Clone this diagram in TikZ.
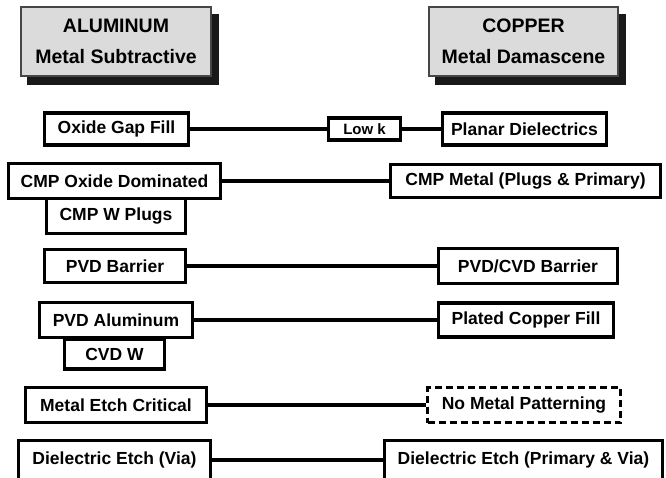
\documentclass[tikz,border=0pt]{standalone}
\usepackage{fontspec}
\setmainfont{Liberation Sans}
\begin{document}
\begin{tikzpicture}[x=1pt,y=-1pt,
  pbox/.style={draw=black,line width=3.4pt,fill=white,inner sep=0pt,align=center,
    font=\fontsize{17.5}{20}\selectfont\bfseries},
  hbox/.style={draw=gray!55!black,line width=1.5pt,fill=gray!28,inner sep=0pt,align=center,
    font=\fontsize{19.5}{31}\selectfont\bfseries},
  hshadow/.style={fill=black!90,draw=none},
  dbox/.style={pbox,dash pattern=on 7pt off 4pt},
  link/.style={draw=black,line width=3.2pt}]
\useasboundingbox (0,0) rectangle (666,478);
% headers
\fill[hshadow] (27,14) rectangle (219,85);
\node[hbox,minimum width=190pt,minimum height=69pt] (hAl) at (116,41.5) {ALUMINUM\\Metal Subtractive};
\fill[hshadow] (435,14) rectangle (626,85);
\node[hbox,minimum width=189pt,minimum height=69pt] (hCu) at (523.5,41.5) {COPPER\\Metal Damascene};
% row 1
\node[pbox,minimum width=144pt,minimum height=32pt] (oxide) at (116.5,129) {Oxide Gap Fill};
\node[pbox,minimum width=72pt,minimum height=22pt,font=\fontsize{15}{17}\selectfont\bfseries] (lowk) at (364.5,129) {Low k};
\node[pbox,minimum width=164pt,minimum height=32pt] (planar) at (524.5,129) {Planar Dielectrics};
% row 2
\node[pbox,minimum width=139pt,minimum height=35pt] (cmpw) at (116,216) {CMP W Plugs};
\node[pbox,minimum width=212pt,minimum height=35pt] (cmpox) at (114.5,181) {CMP Oxide Dominated};
\node[pbox,minimum width=270pt,minimum height=33pt] (cmpmetal) at (525.5,181) {CMP Metal (Plugs \& Primary)};
% row 3
\node[pbox,minimum width=141pt,minimum height=33pt] (pvdb) at (115,266) {PVD Barrier};
\node[pbox,minimum width=179pt,minimum height=35pt] (pvdcvd) at (528,266) {PVD/CVD Barrier};
% row 4
\node[pbox,minimum width=100pt,minimum height=30pt] (cvdw) at (114.5,354) {CVD W};
\node[pbox,minimum width=153pt,minimum height=35pt] (pvdal) at (116,320) {PVD Aluminum};
\node[pbox,minimum width=175pt,minimum height=34pt] (plated) at (526,320) {Plated Copper Fill};
% row 5
\node[pbox,minimum width=181pt,minimum height=35pt] (metch) at (116,405) {Metal Etch Critical};
\node[dbox,minimum width=193pt,minimum height=35pt] (nometal) at (524,405) {No Metal Patterning};
% row 6
\node[pbox,minimum width=192pt,minimum height=39pt] (detch) at (114.5,460) {Dielectric Etch (Via)};
\node[pbox,minimum width=278pt,minimum height=39pt] (detchpv) at (523.5,460) {Dielectric Etch (Primary \& Via)};
% connectors
\draw[link] (oxide.east) -- (lowk.west);
\draw[link] (lowk.east) -- (planar.west);
\draw[link] (cmpox.east) -- (cmpmetal.west);
\draw[link] (pvdb.east) -- (pvdcvd.west);
\draw[link] (pvdal.east) -- (plated.west);
\draw[link] (metch.east) -- (nometal.west);
\draw[link] (detch.east) -- (detchpv.west);
\end{tikzpicture}
\end{document}
